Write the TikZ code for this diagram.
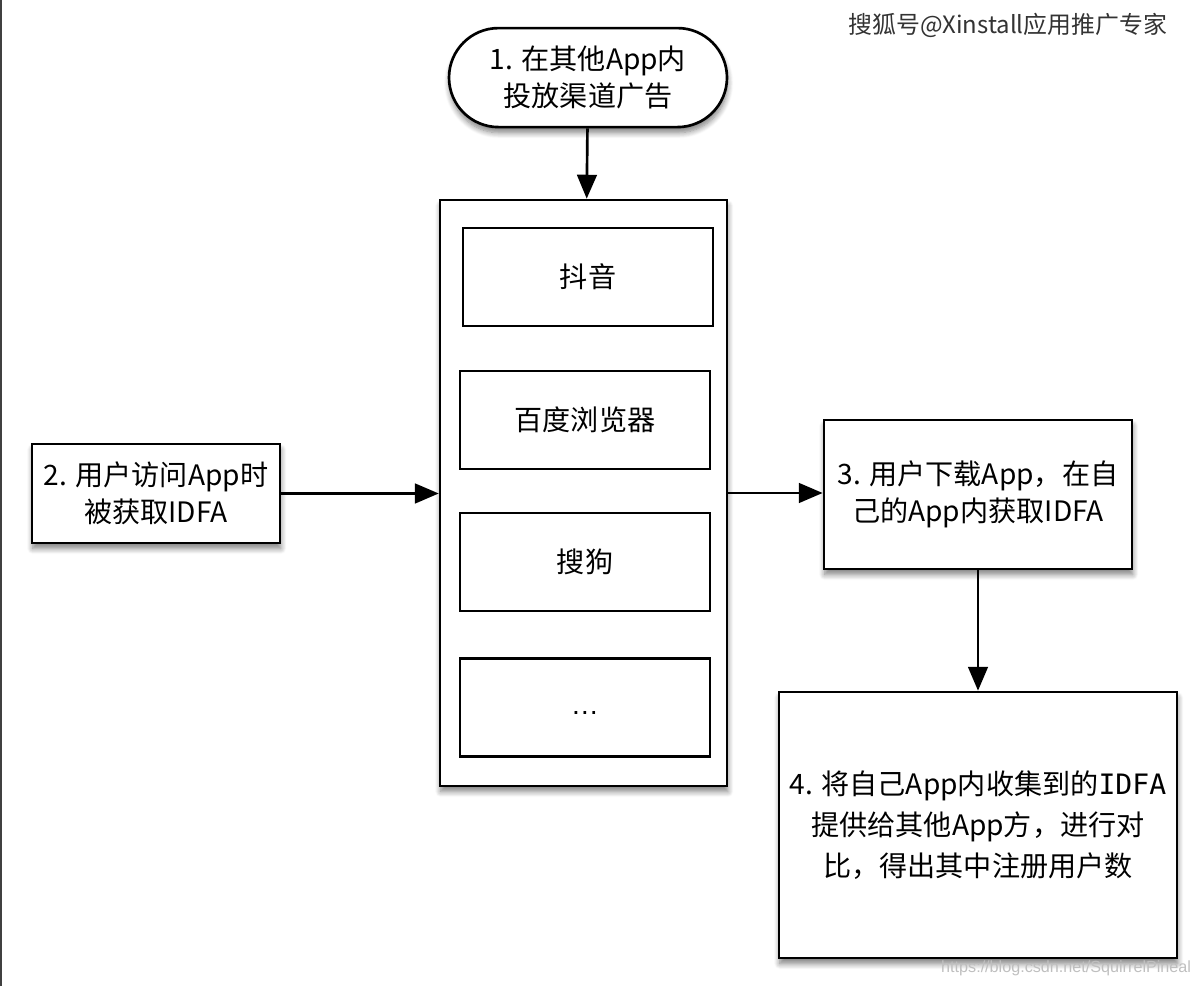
\documentclass[tikz,border=0pt]{standalone}
\usepackage{fontspec}
\setmainfont{Noto Sans CJK SC}
\newfontfamily\idfafont{DejaVu Sans Mono}
\newfontfamily\urlfont{Liberation Sans}
\usetikzlibrary{arrows.meta,shapes.misc,shadows.blur}
\begin{document}
\begin{tikzpicture}[every node/.style={font=\fontsize{20}{26}\selectfont, align=center},
  shade/.style={blur shadow={shadow xshift=0.5pt, shadow yshift=-4pt, shadow blur steps=8, shadow blur radius=4pt, shadow opacity=50}},
  box/.style={draw, line width=1.9pt, fill=white, rectangle, inner sep=0pt},
  arr/.style={line width=1.9pt, -{Triangle[length=17pt,width=14pt]}}]
  \useasboundingbox (0,0) rectangle (30,24.65);
  \draw[line width=1.5pt, black!75] (0.03,0) -- (0.03,24.65);
  % step 1 and the channel list
  \node[box, shade, rounded rectangle, minimum width=6.95cm, minimum height=2.475cm] (ad) at (14.7,22.71) {1. 在其他App内\\投放渠道广告};
  \node[box, shade, minimum width=7.175cm, minimum height=14.65cm] (chan) at (14.59,12.325) {};
  \node[box, minimum width=6.25cm, minimum height=2.45cm] (douyin) at (14.7,17.725) {抖音};
  \node[box, minimum width=6.25cm, minimum height=2.45cm] (baidu) at (14.625,14.15) {百度浏览器};
  \node[box, minimum width=6.25cm, minimum height=2.45cm] (sogou) at (14.625,10.6) {搜狗};
  \node[box, minimum width=6.25cm, minimum height=2.45cm] (more) at (14.625,6.9625) {\strut{\urlfont …}};
  % steps 2 to 4
  \node[box, shade, minimum width=6.2cm, minimum height=2.475cm] (visit) at (3.9,12.3125) {2. 用户访问App时\\被获取IDFA};
  \node[box, shade, minimum width=7.7cm, minimum height=3.725cm] (own) at (24.45,12.2875) {3. 用户下载App，在自\\己的App内获取IDFA};
  \node[box, shade, minimum width=9.95cm, minimum height=6.65cm, font=\fontsize{20}{29}\selectfont] (match) at (24.45,4.025) {4. 将自己App内收集到的{\idfafont IDFA}\\提供给其他App方，进行对\\比，得出其中注册用户数};
  \draw[arr] (ad) -- (chan);
  \draw[arr] (visit.east) -- (visit.east -| chan.west);
  \draw[arr] (chan.east) -- (chan.east -| own.west);
  \draw[arr] (own) -- (match);
  % watermarks
  \node[anchor=east, text=black!80, font=\fontsize{17}{17}\selectfont] (sohu) at (29.3,24.025) {搜狐号@Xinstall应用推广专家};
  \node[anchor=east, text=black!25, font=\urlfont\fontsize{11.5}{12}\selectfont] (csdn) at (29.9,0.45) {https://blog.csdn.net/SquirrelPineal};
\end{tikzpicture}
\end{document}
